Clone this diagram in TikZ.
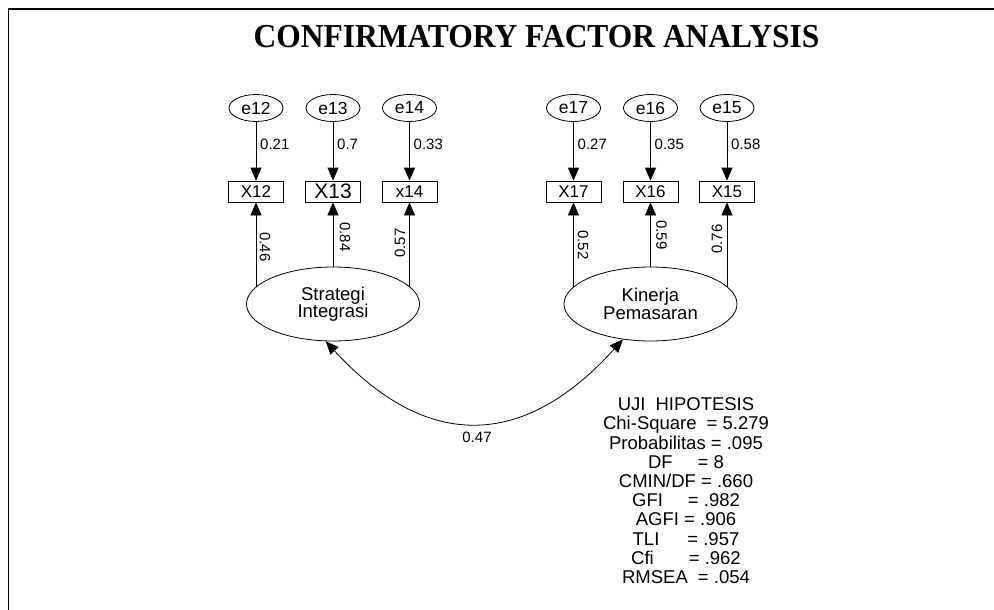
\documentclass[tikz,border=0pt]{standalone}
\usepackage{graphicx}
\usepackage{fontspec}
\setmainfont{Liberation Sans}
\newfontfamily\titleface{Liberation Serif}
\usetikzlibrary{shapes.geometric,arrows.meta}
\newcommand\spx[1]{\hspace*{#1pt}}

\begin{document}
\begin{tikzpicture}[x=1pt,y=-1pt,
  errvar/.style={ellipse,draw,line width=0.8pt,minimum width=54pt,minimum height=27pt,
    inner sep=0pt,font=\fontsize{17.5}{18}\selectfont},
  obsvar/.style={rectangle,draw,line width=0.8pt,minimum width=55pt,minimum height=21pt,
    inner sep=0pt,font=\fontsize{17}{18}\selectfont},
  latent/.style={ellipse,draw,fill=white,line width=0.8pt,minimum width=173pt,
    minimum height=74pt,inner sep=0pt,align=center,font=\fontsize{18.5}{17.5}\selectfont},
  link/.style={-{Triangle[length=13pt,width=11pt]},line width=0.8pt},
  covlink/.style={{Triangle[length=13pt,width=11pt]}-{Triangle[length=13pt,width=11pt]},line width=0.8pt},
  coef/.style={inner sep=0pt,font=\fontsize{15}{15}\selectfont},
  stats/.style={inner sep=0pt,align=center,font=\fontsize{18.5}{19.2}\selectfont},
]
% page and frame
\fill[white] (0,0) rectangle (994,610);
\useasboundingbox (0,0) rectangle (994,610);
\draw[line width=1.8pt] (8.5,610) -- (8.5,9) -- (994,9);

% title
\node (title) at (536.5,37)
  {\scalebox{0.94}[1]{\titleface\bfseries\fontsize{33.5}{36}\selectfont CONFIRMATORY FACTOR ANALYSIS}};

% error terms
\node[errvar] (e12) at (256,108) {e12};
\node[errvar] (e13) at (333,108) {e13};
\node[errvar] (e14) at (409.5,108) {e14};
\node[errvar] (e17) at (573.5,108) {e17};
\node[errvar] (e16) at (650.5,108) {e16};
\node[errvar] (e15) at (727,108) {e15};

% indicators
\node[obsvar] (x12) at (256,191.5) {X12};
\node[obsvar,font=\fontsize{21}{22}\selectfont] (x13) at (333,191.5) {X13};
\node[obsvar] (x14) at (409.5,191.5) {x14};
\node[obsvar] (x17) at (573.5,191.5) {X17};
\node[obsvar] (x16) at (650.5,191.5) {X16};
\node[obsvar] (x15) at (727,191.5) {X15};

% error paths
\foreach \n in {12,13,14,17,16,15}
  \draw[link] (e\n) -- (x\n);

% loadings (drawn from the factor centres, the filled factors cover the inner part)
\coordinate (sic) at (333,304);
\coordinate (kpc) at (650.5,304);
\foreach \n in {12,13,14}
  \draw[link] (sic -| x\n) -- (x\n.south);
\foreach \n in {17,16,15}
  \draw[link] (kpc -| x\n) -- (x\n.south);

% latent factors
\node[latent] (si) at (sic) {Strategi\\Integrasi};
\node[latent] (kp) at (kpc) {Kinerja\\Pemasaran};

% covariance
\draw[covlink] (si.-101) .. controls +(100,109) and +(-100,111) .. (kp.-128);
\node[coef] (c47) at (477,437) {0.47};

% error path weights
\node[coef,anchor=west] (w12) at (260,144) {0.21};
\node[coef,anchor=west] (w13) at (337,144) {0.7};
\node[coef,anchor=west] (w14) at (413.5,144) {0.33};
\node[coef,anchor=west] (w17) at (577.5,144) {0.27};
\node[coef,anchor=west] (w16) at (654.5,144) {0.35};
\node[coef,anchor=west] (w15) at (731,144) {0.58};

% loading weights
\node[coef,rotate=-90] (l12) at (265,247) {0.46};
\node[coef,rotate=-90] (l13) at (345,237) {0.84};
\node[coef,rotate=90]  (l14) at (400,243) {0.57};
\node[coef,rotate=-90] (l17) at (583,245) {0.52};
\node[coef,rotate=-90] (l16) at (661.5,235) {0.59};
\node[coef,rotate=90]  (l15) at (717,239) {0.76};

% fit statistics
\node[stats,anchor=north] (fit) at (686,397.5) {%
UJI\spx{10}HIPOTESIS\\
Chi-Square\spx{10}= 5.279\\
Probabilitas = .095\\
DF\spx{25}= 8\\
CMIN/DF = .660\\
GFI\spx{25}= .982\\
AGFI = .906\\
TLI\spx{28}= .957\\
Cfi\spx{35}= .962\\
RMSEA\spx{10}= .054};
\end{tikzpicture}
\end{document}
